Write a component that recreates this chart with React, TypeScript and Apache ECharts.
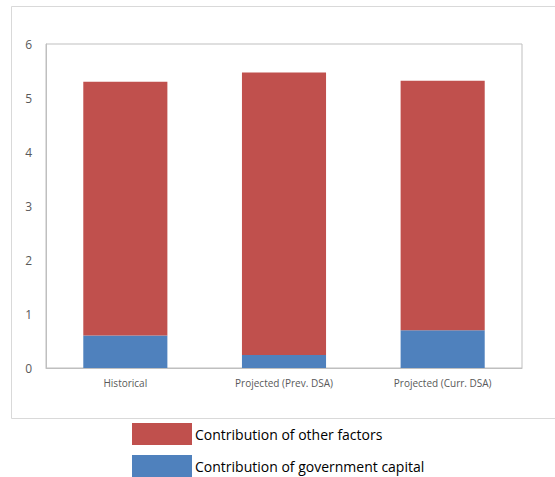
import React, { useEffect, useRef } from "react";
import * as echarts from "echarts";

const categories = ["Historical", "Projected (Prev. DSA)", "Projected (Curr. DSA)"];
const govCapital = [0.6, 0.24, 0.7];
const otherFactors = [4.7, 5.23, 4.62];
const yTicks = { min: 0, max: 6, interval: 1 };
const seriesNames = ["Contribution of other factors", "Contribution of government capital"];

export default function App() {
  const ref = useRef<HTMLDivElement>(null);
  useEffect(() => {
    if (!ref.current) return;
    const chart = echarts.init(ref.current, null, { renderer: "svg" });
    const font = "'Open Sans', 'Noto Sans', sans-serif";
    chart.setOption({
      animation: false,
      grid: {
        left: 46,
        top: 44,
        width: 476,
        height: 324,
        show: true,
        borderColor: "#bfbfbf",
        borderWidth: 1,
      },
      xAxis: {
        type: "category",
        data: categories,
        axisLine: { lineStyle: { color: "#bfbfbf" } },
        axisTick: { show: false },
        axisLabel: { color: "#595959", fontSize: 10, fontFamily: font, margin: 10 },
      },
      yAxis: {
        type: "value",
        min: yTicks.min,
        max: yTicks.max,
        interval: yTicks.interval,
        splitLine: { show: false },
        axisLine: { show: true, lineStyle: { color: "#bfbfbf" } },
        axisTick: { show: false },
        axisLabel: { color: "#595959", fontSize: 12, fontFamily: font, margin: 14 },
      },
      legend: {
        orient: "vertical",
        left: 132,
        top: 423,
        itemWidth: 60,
        itemHeight: 22,
        itemGap: 10,
        icon: "rect",
        data: seriesNames,
        textStyle: { color: "#000", fontSize: 14, fontFamily: font, padding: [0, 0, 0, -2] },
        padding: 0,
      },
      graphic: [
        {
          type: "rect",
          shape: { x: 11.5, y: 6.5, width: 560, height: 412 },
          style: { fill: "none", stroke: "#d9d9d9", lineWidth: 1 },
          silent: true,
        },
      ],
      series: [
        {
          name: seriesNames[1],
          type: "bar",
          stack: "total",
          data: govCapital,
          barWidth: "53%",
          itemStyle: { color: "#4F81BD" },
        },
        {
          name: seriesNames[0],
          type: "bar",
          stack: "total",
          data: otherFactors,
          barWidth: "53%",
          itemStyle: { color: "#C0504D" },
        },
      ],
    });
    return () => chart.dispose();
  }, []);
  return (
    <div
      ref={ref}
      style={{ position: "absolute", left: 0, top: 0, width: 555, height: 477, background: "#fff" }}
    />
  );
}
